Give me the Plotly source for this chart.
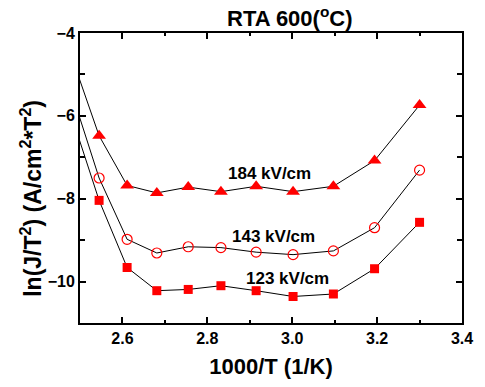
import plotly.graph_objects as go

x_vals = [2.481, 2.545, 2.611, 2.681, 2.755, 2.832, 2.915, 3.002, 3.097, 3.194, 3.300]
y_184 = [-4.59, -6.48, -7.68, -7.86, -7.72, -7.83, -7.70, -7.83, -7.70, -7.08, -5.74]
y_143 = [-5.46, -7.50, -8.98, -9.31, -9.16, -9.18, -9.29, -9.35, -9.26, -8.70, -7.31]
y_123 = [-6.03, -8.04, -9.66, -10.22, -10.19, -10.10, -10.22, -10.36, -10.30, -9.69, -8.57]
labels = ["184 kV/cm", "143 kV/cm", "123 kV/cm"]
label_x = [2.946, 2.955, 2.99]
label_y = [-7.38, -8.92, -9.92]

FONT = "Liberation Sans, Arial, sans-serif"
RED = "#FF0000"

fig = go.Figure()
fig.add_trace(go.Scatter(x=x_vals, y=y_184, mode="lines+markers",
                         line=dict(color="black", width=1),
                         marker=dict(symbol="triangle-up", size=12, color=RED)))
fig.add_trace(go.Scatter(x=x_vals, y=y_143, mode="lines+markers",
                         line=dict(color="black", width=1),
                         marker=dict(symbol="circle-open", size=10, color=RED,
                                     line=dict(color=RED, width=1.2))))
fig.add_trace(go.Scatter(x=x_vals, y=y_123, mode="lines+markers",
                         line=dict(color="black", width=1),
                         marker=dict(symbol="square", size=9, color=RED)))

for t, lx, ly in zip(labels, label_x, label_y):
    fig.add_annotation(x=lx, y=ly, text=t, showarrow=False,
                       font=dict(family=FONT, size=17, color="black", weight="bold"))

fig.add_annotation(xref="paper", yref="paper", x=0.549, y=1.055,
                   text="RTA 600(<sup>o</sup>C)", showarrow=False, yanchor="middle",
                   font=dict(family=FONT, size=22, color="black", weight="bold"))
fig.add_annotation(xref="paper", yref="paper", x=-0.128, y=0.4286,
                   text="ln(J/T<sup>2</sup>) (A/cm<sup>2</sup>*T<sup>2</sup>)",
                   textangle=-90, showarrow=False, xanchor="center", yanchor="middle",
                   font=dict(family=FONT, size=23, color="black", weight="bold"))

axis_common = dict(showline=True, linecolor="black", linewidth=2, mirror="allticks",
                   ticks="inside", ticklen=6, tickwidth=1.5, tickcolor="black",
                   showgrid=False, zeroline=False,
                   tickfont=dict(family=FONT, size=16, color="black", weight="bold"))

fig.update_xaxes(range=[2.5, 3.4], tick0=2.6, dtick=0.2, tickformat=".1f",
                 minor=dict(dtick=0.1, tick0=2.5, ticks="inside", ticklen=3,
                            tickcolor="black", tickwidth=1.5),
                 title=dict(text="1000/T (1/K)", standoff=12,
                            font=dict(family=FONT, size=22, color="black", weight="bold")),
                 **axis_common)
fig.update_yaxes(range=[-11, -4], tick0=-4, dtick=2,
                 minor=dict(dtick=1, tick0=-4, ticks="inside", ticklen=5,
                            tickcolor="black", tickwidth=1.5),
                 **axis_common)

fig.update_layout(width=485, height=387, margin=dict(l=80, r=15, t=33, b=62),
                  plot_bgcolor="white", paper_bgcolor="white", showlegend=False,
                  font=dict(family=FONT))

fig.write_html("out.html")
